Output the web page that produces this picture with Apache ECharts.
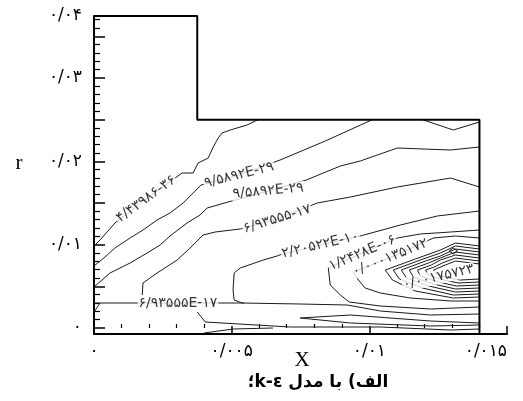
<!DOCTYPE html>
<html><head><meta charset="utf-8">
<script src="https://cdn.jsdelivr.net/npm/echarts@6/dist/echarts.min.js"></script>
<style>html,body{margin:0;padding:0;background:#fff}#c{width:523px;height:401px}</style>
</head><body><div id="c"></div>
<script>
// All coordinates in units of 1e-3 (axis labels show the real values)
const xTickValues = [0, 5, 10, 15];
const xTickLabels = ['۰', '۰/۰۰۵', '۰/۰۱', '۰/۰۱۵'];
const xMajorTicks = [5, 10, 15];
const xMinorTicks = [1, 2, 3, 4, 6, 7, 8, 9, 11, 12, 13, 14];
const yTickValues = [0, 10, 20, 30, 37.44];
const yTickLabels = ['۰', '۰/۰۱', '۰/۰۲', '۰/۰۳', '۰/۰۴'];
const yMajorTicks = [0, 5, 10, 15, 20, 25, 30, 35];
const yMinorTicks = [1, 2, 3, 4, 6, 7, 8, 9, 11, 12, 13, 14, 16, 17, 18, 19, 21, 22, 23, 24, 26, 27, 28, 29, 31, 32, 33, 34, 36, 37];

const boundary = [[0, 37.44], [3.75, 37.44], [3.75, 25], [14, 25], [14, -0.72]];

const contour1 = [[0,9.84],[0.22,10.56],[0.76,12.6],[1.89,15.48],[3.2,18.6],[3.6,18.6],[3.78,19.8],[4.15,20.4],[4.33,21.72],[4.51,22.8],[4.65,23.4],[4.95,23.76],[5.56,24.36],[5.96,25]];
const contourV = [[11.93,25],[13.05,23.76],[14,24.72]];
const contour2 = [[0,7.44],[0.4,8.52],[0.76,9.6],[1.31,10.8],[1.78,11.76],[2.29,12.96],[2.76,13.8],[3.24,15.0],[3.6,16.2],[3.89,17.16],[5.27,18.36],[6.76,20.16],[8.4,22.44],[10.11,25]];
const contour3 = [[0,4.92],[0.58,6.6],[1.31,7.8],[1.93,9.0],[2.4,9.96],[2.76,11.04],[3.38,12.6],[3.85,13.56],[4.11,14.4],[4.87,15.12],[6.33,16.44],[7.71,17.76],[8.95,19.44],[9.67,20.04],[11.02,21.6],[12.95,21.36],[14,21.72]];
const contour4 = [[1.75,3.96],[1.78,5.4],[2.29,6.6],[3.02,8.16],[3.49,9.6],[3.96,11.16],[4.4,11.52],[5.31,11.88],[6.65,13.08],[8.11,15.0],[9.31,15.72],[11.02,16.92],[12.95,18.0],[14,16.92]];
const contour5 = [[14,14.04],[12.47,13.44],[11.13,12.36],[9.67,11.04],[8.22,9.96],[6.84,8.88],[6.65,8.64],[6.15,8.16],[5.31,7.2],[5.09,6.6],[5.05,4.56],[5.09,3.36],[5.38,3.0],[7.49,2.88],[9.2,2.76],[10.4,2.04],[12.22,1.56],[14,1.68]];
const contour6 = [[14,11.76],[12.95,11.52],[11.85,11.28],[11.02,10.8],[9.75,9.0],[8.51,7.2],[8.58,5.16],[8.95,3.96],[9.27,3.12],[10.4,2.64],[12.22,2.28],[14,2.52]];
const contour7 = [[14,10.8],[13.13,11.04],[12.33,10.8],[10.76,8.46],[9.42,6.72],[9.6,5.76],[9.85,4.8],[10.4,4.2],[11.49,3.6],[12.95,3.24],[14,3.24]];
const wedge1 = [[14,9.84],[13.13,10.2],[12.58,9.36],[11.67,8.28],[10.58,6.96],[10.84,5.76],[11.67,4.44],[13.05,3.6],[14,3.72]];
const wedge2 = [[14,9.48],[13.13,9.84],[12.58,9.0],[11.85,8.16],[10.87,6.96],[11.09,5.88],[11.93,4.8],[13.05,3.96],[14,4.08]];
const wedge3 = [[14,9.12],[13.13,9.48],[12.58,8.64],[12.04,8.04],[11.16,6.96],[11.35,6.0],[12.15,5.04],[13.13,4.32],[14,4.44]];
const wedge4 = [[14,8.76],[13.13,9.12],[12.58,8.4],[12.15,7.8],[11.45,6.96],[11.6,6.12],[12.33,5.28],[13.13,4.68],[14,4.8]];
const wedge5 = [[14,8.4],[13.13,8.76],[12.58,8.16],[12.25,7.56],[11.75,6.96],[11.85,6.24],[12.51,5.52],[13.16,5.04],[14,5.16]];
const wedge6 = [[14,8.04],[13.13,8.4],[12.65,7.8],[12.36,7.32],[12.04,6.96],[12.15,6.36],[12.69,5.76],[13.24,5.4],[14,5.52]];
const wedge7 = [[14,7.68],[13.13,8.04],[12.76,7.56],[12.33,6.96],[12.44,6.48],[12.87,6.0],[13.31,5.76],[14,5.88]];
const peak = [[13.05,9.6],[13.2,9.24],[13.05,8.88],[12.9,9.24],[13.05,9.6]];
const contour9 = [[0,3.0],[3.05,3.0],[5.45,3.0]];
const contour9b = [[0,1.92],[0.22,3.0]];
const contour10 = [[3.75,1.92],[4.04,0.72],[7.13,0.12],[10.4,0.12],[12.95,-0.24],[14,-0.12]];
const contour11 = [[4.0,-0.6],[5.05,-0.12],[6.5,0.0]];
const contourB1 = [[14,0.6],[12.22,0.84],[9.31,1.56],[7.49,1.2],[9.31,0.6],[12.22,0.24],[14,0.36]];

const contours = [contour1, contourV, contour2, contour3, contour4, contour5, contour6, contour7,
  wedge1, wedge2, wedge3, wedge4, wedge5, wedge6, wedge7, peak,
  contour9, contour9b, contour10, contour11, contourB1];

const labelPoints = [[1.89,15.48],[5.27,18.36],[6.33,16.44],[6.65,13.08],[8.22,9.96],[9.75,9.0],[10.76,8.46],[12.51,6.12],[3.05,3.0]];
const labelTexts = ['۴/۴۳۹۸۶-۳۶','۹/۵۸۹۲E-۲۹','۹/۵۸۹۲E-۲۹','۶/۹۳۵۵۵-۱۷','۲/۲۰۵۲۲E-۱۰','۱/۲۴۲۸E-۰۶','۰/۰۰۰۱۳۵۱۷۲','۰/۰۰۱۷۵۷۲۳','۶/۹۳۵۵۵E-۱۷'];
const labelAngles = [36, 14, 5, 17, 13, 23, 22, 13, 0];

const chart = echarts.init(document.getElementById('c'), null, {renderer: 'canvas'});
const lineStyle = {color: '#1a1a1a', width: 1};
const series = [];
contours.forEach(c => series.push({
  type: 'line', data: c, symbol: 'none', lineStyle: lineStyle, silent: true, z: 2, animation: false
}));
series.push({
  type: 'line', data: boundary, symbol: 'none', lineStyle: {color: '#000', width: 2}, silent: true, z: 3, clip: false, animation: false
});
series.push({
  type: 'scatter', symbolSize: 0, silent: true, z: 5, animation: false,
  data: labelPoints.map((p, i) => ({value: p, name: labelTexts[i], label: {rotate: labelAngles[i]}})),
  label: {show: true, position: 'inside', formatter: p => p.name, color: '#000',
    fontFamily: 'DejaVu Sans', fontSize: 14, backgroundColor: '#fff', padding: [0, 1]}
});

const axisFont = {fontFamily: 'DejaVu Sans', fontSize: 17, color: '#000'};
chart.setOption({
  animation: false,
  backgroundColor: '#fff',
  grid: {left: 94, right: 16, top: 16, bottom: 67},
  xAxis: [{
    type: 'value', min: 0, max: 15, position: 'bottom',
    axisLine: {onZero: false, lineStyle: {color: '#000', width: 2}},
    axisTick: {inside: true, length: 8, customValues: xMajorTicks, lineStyle: {color: '#000', width: 1.5}},
    axisLabel: Object.assign({customValues: xTickValues, margin: 9, alignMaxLabel: 'right',
      formatter: v => { const i = xTickValues.indexOf(v); return i < 0 ? '' : xTickLabels[i]; }}, axisFont),
    splitLine: {show: false}
  }, {
    type: 'value', min: 0, max: 15, position: 'bottom',
    axisLine: {show: false},
    axisTick: {inside: true, length: 4, customValues: xMinorTicks, lineStyle: {color: '#000', width: 1.2}},
    axisLabel: {show: false}, splitLine: {show: false}
  }],
  yAxis: [{
    type: 'value', min: -0.72, max: 37.44, position: 'left',
    axisLine: {show: true, onZero: false, lineStyle: {color: '#000', width: 2}},
    axisTick: {show: true, inside: true, length: 11, customValues: yMajorTicks, lineStyle: {color: '#000', width: 1.5}},
    axisLabel: Object.assign({customValues: yTickValues, margin: 12,
      formatter: v => { const i = yTickValues.indexOf(v); return i < 0 ? '' : yTickLabels[i]; }}, axisFont),
    splitLine: {show: false}
  }, {
    type: 'value', min: -0.72, max: 37.44, position: 'left',
    axisLine: {show: false},
    axisTick: {show: true, inside: true, length: 6, customValues: yMinorTicks, lineStyle: {color: '#000', width: 1.2}},
    axisLabel: {show: false}, splitLine: {show: false}
  }],
  graphic: [
    {type: 'text', x: 19, y: 163, style: {text: 'r', font: '21px "Liberation Serif"', fill: '#000', textAlign: 'center', textVerticalAlign: 'middle'}},
    {type: 'text', x: 302, y: 360, style: {text: 'X', font: '21px "Liberation Serif"', fill: '#000', textAlign: 'center', textVerticalAlign: 'middle'}},
    {type: 'text', x: 318, y: 383, style: {text: '؛k-ε الف) با مدل', font: 'bold 17px "DejaVu Sans"', fill: '#000', textAlign: 'center', textVerticalAlign: 'middle'}}
  ],
  series: series
});
</script>
</body></html>
